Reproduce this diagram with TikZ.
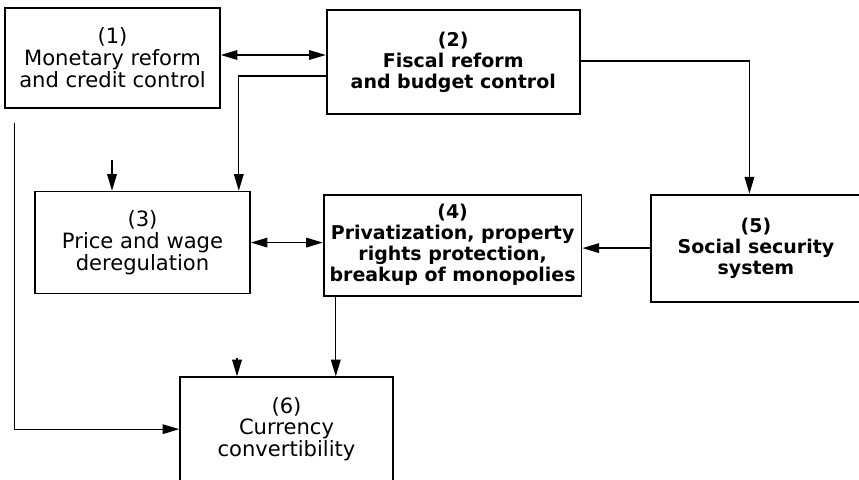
\documentclass[tikz,border=0pt]{standalone}
\usepackage{fontspec}
\setmainfont{DejaVu Sans}
\usetikzlibrary{positioning,arrows.meta}

\begin{document}
\begin{tikzpicture}[>={Triangle[length=9.5pt,width=5.5pt]},line width=0.75pt,
  every node/.style={draw,rectangle,align=center,line width=0.9pt,
    font=\fontsize{12}{12.5}\selectfont,minimum height=2cm},
  strong/.style={font=\fontsize{10.8}{12}\selectfont\bfseries,line width=1.1pt}]

  \useasboundingbox (0,0) rectangle (17.18,-9.58);

  \node (mon) [minimum width=4.3cm] at (2.25,-1.16) {(1)\\Monetary reform\\and credit control};
  \node (fis) [strong,minimum width=5.06cm,minimum height=2.08cm,right=2.1cm of mon,yshift=-0.08cm]
    {(2)\\Fiscal reform\\and budget control};
  \node (pri) [minimum width=4.3cm,minimum height=2.04cm,below=1.64cm of mon,xshift=0.6cm]
    {(3)\\Price and wage\\deregulation};
  \node (own) [strong,minimum width=5.1cm,minimum height=2.02cm,right=1.44cm of pri,yshift=-0.05cm]
    {(4)\\Privatization, property\\rights protection,\\breakup of monopolies};
  \node (soc) [strong,minimum width=4.18cm,minimum height=2.14cm,right=1.36cm of own,yshift=-0.06cm]
    {(5)\\Social security\\system};
  \node (cur) [minimum width=4.26cm,minimum height=2.08cm,below=1.64cm of pri,xshift=2.88cm]
    {(6)\\Currency\\convertibility};

  \coordinate (topin) at (2.24,-3.2);
  \coordinate (lowin) at (4.74,-7.15);

  \draw[<->] (mon.east |- 0,-1.1) -- (fis.west |- 0,-1.1);
  \draw[->] (fis.west |- 0,-1.52) -| ([xshift=-0.24cm]pri.north east);
  \draw[->] (fis.east |- 0,-1.22) -| ([xshift=-0.13cm]soc.north);
  \draw[->] (soc.west) -- (own.east |- soc.west);
  \draw[<->] (pri.east) -- (own.west |- pri.east);
  \draw[->] (topin) -- (topin |- pri.north);
  \draw[->] ([xshift=0.2cm,yshift=-0.28cm]mon.south west) |- (cur.west);
  \draw[->] ([xshift=0.26cm]own.south west) -- ([xshift=0.26cm]own.south west |- cur.north);
  \draw[->] (lowin) -- (lowin |- cur.north);

\end{tikzpicture}
\end{document}
